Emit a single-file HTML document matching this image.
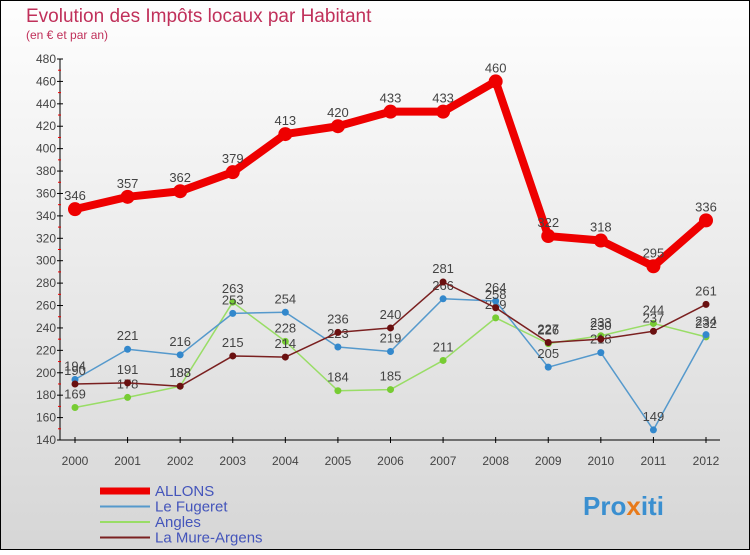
<!DOCTYPE html>
<html><head><meta charset="utf-8"><style>
body{margin:0;width:750px;height:550px;overflow:hidden;font-family:"Liberation Sans",sans-serif}
svg text{font-family:"Liberation Sans",sans-serif}
</style></head><body>
<svg id="c" width="750" height="550">
<defs><linearGradient id="bg" x1="0" y1="0" x2="0" y2="1"><stop offset="0" stop-color="#fefefe"/><stop offset="1" stop-color="#d6d6d6"/></linearGradient></defs>
<rect x="0.5" y="0.5" width="749" height="549" fill="url(#bg)" stroke="#000"/>
<text x="26" y="22" font-size="19" fill="#c0305a">Evolution des Impôts locaux par Habitant</text>
<text x="26" y="39" font-size="12" fill="#c0305a">(en € et par an)</text>
<g id="g"></g>
<text x="583" y="515" font-size="26" font-weight="bold" fill="#3a8fd0">Pro<tspan fill="#e87a1a">x</tspan>iti</text>
</svg>
<script>
const years=[2000,2001,2002,2003,2004,2005,2006,2007,2008,2009,2010,2011,2012];
const allons=[346,357,362,379,413,420,433,433,460,322,318,295,336];
const fugeret=[194,221,216,253,254,223,219,266,264,205,218,149,234];
const angles=[169,178,188,263,228,184,185,211,249,226,233,244,232];
const mure=[190,191,188,215,214,236,240,281,258,227,230,237,261];
const yTicks=[140,160,180,200,220,240,260,280,300,320,340,360,380,400,420,440,460,480];
const NS="http://www.w3.org/2000/svg",g=document.getElementById('g');
const X=i=>75+i*(706-75)/12, Y=v=>440-(v-140)*(381/340);
function el(t,a,p){const e=document.createElementNS(NS,t);for(const k in a)e.setAttribute(k,a[k]);(p||g).appendChild(e);return e;}
let ax=el('line',{x1:60,y1:Y(480),x2:60,y2:440,stroke:'#000'});


let xa=el('line',{x1:60,y1:440,x2:720,y2:440,stroke:'#000'});


yTicks.forEach(v=>{
 el('line',{x1:57,x2:63,y1:Y(v),y2:Y(v),stroke:'#000'});
 if(v<480)el('line',{x1:58,x2:61,y1:Y(v+10),y2:Y(v+10),stroke:'#e00'});
 const t=el('text',{x:56,y:Y(v)+4,'font-size':12,'text-anchor':'end',fill:'#444'});t.textContent=v;
 
 
});
years.forEach((y,i)=>{
 el('line',{x1:X(i),x2:X(i),y1:437,y2:443,stroke:'#000'});
 const t=el('text',{x:X(i),y:465,'font-size':12,'text-anchor':'middle',fill:'#444'});t.textContent=y;
 
 
});
function series(d,color,w,r,dot,name){
 const p=el('polyline',{points:d.map((v,i)=>X(i)+','+Y(v)).join(' '),fill:'none',stroke:color,'stroke-width':w,'stroke-linejoin':'round'});
 
 
 d.forEach((v,i)=>{
  const c=el('circle',{cx:X(i),cy:Y(v),r:r,fill:dot});
  
  
  const t=el('text',{x:X(i),y:Y(v)-9,'font-size':13,'text-anchor':'middle',fill:'#444'});t.textContent=v;
  
  
 });
}
series(angles,'#99dd66',1.5,3.5,'#77cc33','angles');
series(fugeret,'#5599cc',1.5,3.5,'#3388cc','le-fugeret');
series(mure,'#7a2020',1.5,3.5,'#6a1010','la-mure-argens');
series(allons,'#ee0000',8,7,'#ee0000','allons');
const leg=[['ALLONS','#ee0000',7],['Le Fugeret','#5599cc',2],['Angles','#99dd66',2],['La Mure-Argens','#7a2020',2]];
leg.forEach((l,i)=>{
 const y=491+i*15.5;
 const ln=el('line',{x1:100,x2:150,y1:y,y2:y,stroke:l[1],'stroke-width':l[2]});
 
 
 const t=el('text',{x:155,y:y+5,'font-size':15,fill:'#4455bb'});t.textContent=l[0];
 
 
});
</script>
</body></html>
